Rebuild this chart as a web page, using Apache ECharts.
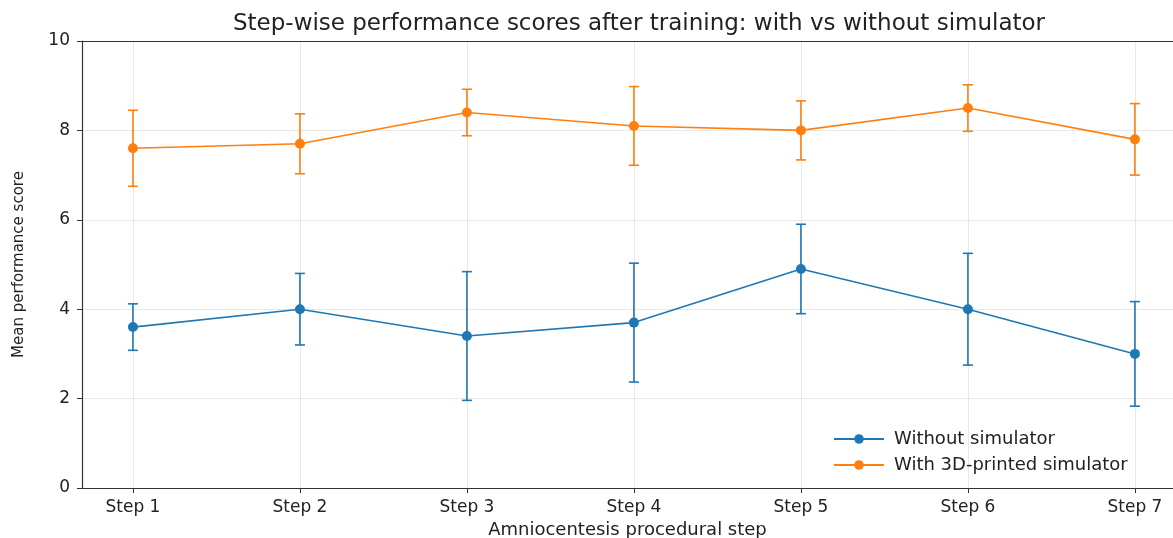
<!DOCTYPE html>
<html>
<head>
<meta charset="utf-8">
<script src="https://cdn.jsdelivr.net/npm/echarts@6/dist/echarts.min.js"></script>
<style>
  html, body { margin: 0; padding: 0; background: #fff; }
  #chart { width: 1173px; height: 538px; }
</style>
</head>
<body>
<div id="chart"></div>
<script>
// data
const steps = ['Step 1', 'Step 2', 'Step 3', 'Step 4', 'Step 5', 'Step 6', 'Step 7'];
const withoutMean = [3.6, 4.0, 3.4, 3.7, 4.9, 4.0, 3.0];
const withoutErr = [0.52, 0.8, 1.44, 1.33, 1.0, 1.25, 1.17];
const withMean = [7.6, 7.7, 8.4, 8.1, 8.0, 8.5, 7.8];
const withErr = [0.85, 0.67, 0.52, 0.88, 0.66, 0.52, 0.8];
const yTicks = [0, 2, 4, 6, 8, 10];

const BLUE = '#1f77b4';
const ORANGE = '#ff7f0e';
const FONT = 'DejaVu Sans';

const chart = echarts.init(document.getElementById('chart'));

function points(means) {
  return means.map((m, i) => [i, m]);
}
function errData(means, errs) {
  return means.map((m, i) => [i, m - errs[i], m + errs[i]]);
}
function errorBars(color) {
  return function (params, api) {
    const x = api.value(0);
    const lo = api.coord([x, api.value(1)]);
    const hi = api.coord([x, api.value(2)]);
    const cap = 5;
    const style = { stroke: color, lineWidth: 1.6 };
    return {
      type: 'group',
      children: [
        { type: 'line', shape: { x1: lo[0], y1: lo[1], x2: hi[0], y2: hi[1] }, style: style },
        { type: 'line', shape: { x1: lo[0] - cap, y1: lo[1], x2: lo[0] + cap, y2: lo[1] }, style: style },
        { type: 'line', shape: { x1: hi[0] - cap, y1: hi[1], x2: hi[0] + cap, y2: hi[1] }, style: style }
      ]
    };
  };
}

const stepIdx = steps.map((s, i) => i);

const option = {
  backgroundColor: '#fff',
  animation: false,
  title: {
    text: 'Step-wise performance scores after training: with vs without simulator',
    left: 634,
    textAlign: 'center',
    top: 8,
    textStyle: { fontFamily: FONT, fontSize: 23, fontWeight: 'normal', color: '#222' }
  },
  legend: {
    orient: 'vertical',
    left: 828,
    top: 425,
    itemWidth: 50,
    itemHeight: 12,
    itemGap: 8,
    data: ['Without simulator', 'With 3D-printed simulator'],
    textStyle: { fontFamily: FONT, fontSize: 18, color: '#222', padding: [0, 0, 0, 5] }
  },
  grid: {
    left: 82,
    right: 0,
    top: 41,
    bottom: 50,
    outerBoundsMode: 'none',
    containLabel: false,
    show: false
  },
  xAxis: [
    {
      type: 'value',
      min: -0.305,
      max: 6.228,
      name: 'Amniocentesis procedural step',
      nameLocation: 'middle',
      nameGap: 32,
      nameTextStyle: { fontFamily: FONT, fontSize: 18, color: '#222' },
      axisLine: { show: true, onZero: false, lineStyle: { color: '#333', width: 1.2 } },
      axisTick: { show: true, length: 5, customValues: stepIdx, lineStyle: { color: '#333' } },
      axisLabel: {
        customValues: stepIdx,
        formatter: v => steps[Math.round(v)],
        fontFamily: FONT, fontSize: 17, color: '#222', margin: 11
      },
      splitLine: { show: true, lineStyle: { color: '#e8e8e8', width: 1 } }
    },
    {
      // top spine only
      type: 'value',
      position: 'top',
      min: -0.305,
      max: 6.228,
      axisLine: { show: true, onZero: false, lineStyle: { color: '#333', width: 1.2 } },
      axisTick: { show: false },
      axisLabel: { show: false },
      splitLine: { show: false }
    }
  ],
  yAxis: {
    type: 'value',
    min: 0,
    max: 10,
    interval: 2,
    name: 'Mean performance score',
    nameLocation: 'middle',
    nameGap: 55,
    nameTextStyle: { fontFamily: FONT, fontSize: 15, color: '#222' },
    axisLine: { show: true, onZero: false, lineStyle: { color: '#333', width: 1.2 } },
    axisTick: { show: true, length: 5, lineStyle: { color: '#333' } },
    axisLabel: {
      customValues: yTicks,
      fontFamily: FONT, fontSize: 17, color: '#222', margin: 12
    },
    splitLine: { show: true, lineStyle: { color: '#e8e8e8', width: 1 } }
  },
  series: [
    {
      name: 'Without simulator',
      type: 'line',
      data: points(withoutMean),
      color: BLUE,
      symbol: 'circle',
      symbolSize: 10,
      lineStyle: { width: 1.6 },
      z: 3
    },
    {
      name: 'Without simulator',
      type: 'custom',
      data: errData(withoutMean, withoutErr),
      renderItem: errorBars(BLUE),
      z: 3
    },
    {
      name: 'With 3D-printed simulator',
      type: 'line',
      data: points(withMean),
      color: ORANGE,
      symbol: 'circle',
      symbolSize: 10,
      lineStyle: { width: 1.6 },
      z: 4
    },
    {
      name: 'With 3D-printed simulator',
      type: 'custom',
      data: errData(withMean, withErr),
      renderItem: errorBars(ORANGE),
      z: 4
    }
  ]
};

chart.setOption(option);
</script>
</body>
</html>
